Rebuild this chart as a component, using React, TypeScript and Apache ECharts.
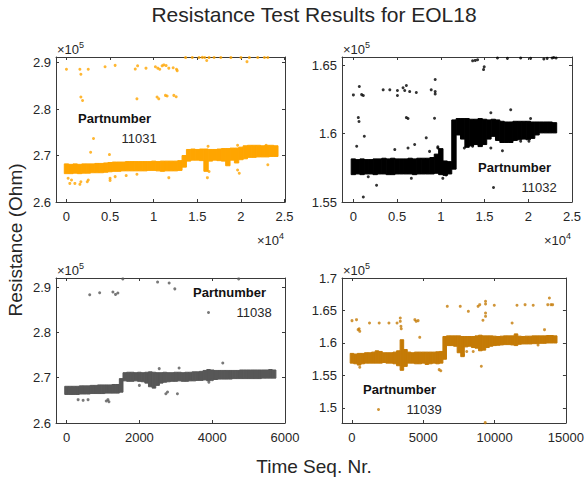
import React, { useEffect, useRef } from "react";
import * as echarts from "echarts";

// ---------- Data (x = sequence number, y = resistance in units of 1e5 Ohm) ----------
const partNumbers = ["11031", "11032", "11038", "11039"];

// Dense clouds: per x-bin [x, lowest value, highest value]
const band11031: number[][] = [
  [0, 2.661, 2.682], [500, 2.661, 2.681], [1000, 2.662, 2.682], [1500, 2.661, 2.681], [2000, 2.662, 2.682],
  [2500, 2.662, 2.682], [3000, 2.663, 2.682], [3500, 2.663, 2.683], [4000, 2.663, 2.683], [4500, 2.664, 2.684],
  [5000, 2.665, 2.685], [5500, 2.666, 2.686], [6000, 2.666, 2.686], [6500, 2.667, 2.686], [7000, 2.667, 2.687],
  [7500, 2.667, 2.687], [8000, 2.667, 2.687], [8500, 2.667, 2.687], [9000, 2.667, 2.687], [9500, 2.668, 2.687],
  [10000, 2.668, 2.688], [10500, 2.667, 2.687], [11000, 2.666, 2.688], [11500, 2.667, 2.688], [12000, 2.667, 2.688],
  [12500, 2.667, 2.688], [13000, 2.668, 2.689], [13500, 2.675, 2.700], [14000, 2.688, 2.713], [14500, 2.690, 2.714],
  [15000, 2.690, 2.713], [15500, 2.689, 2.714], [16000, 2.666, 2.714], [16500, 2.688, 2.713], [17000, 2.690, 2.713],
  [17500, 2.689, 2.714], [18000, 2.688, 2.715], [18500, 2.678, 2.715], [19000, 2.690, 2.716], [19500, 2.684, 2.716],
  [20000, 2.691, 2.718], [20500, 2.693, 2.721], [21000, 2.696, 2.722], [21500, 2.696, 2.722], [22000, 2.697, 2.722],
  [22500, 2.697, 2.721], [23000, 2.697, 2.722], [23500, 2.698, 2.722], [24000, 2.698, 2.721],
];
const band11032: number[][] = [
  [0, 1.5700, 1.5815], [500, 1.5705, 1.5810], [1000, 1.5700, 1.5815], [1500, 1.5705, 1.5810], [2000, 1.5705, 1.5810],
  [2500, 1.5700, 1.5815], [3000, 1.5705, 1.5815], [3500, 1.5705, 1.5820], [4000, 1.5700, 1.5815], [4500, 1.5700, 1.5820],
  [5000, 1.5705, 1.5815], [5500, 1.5705, 1.5815], [6000, 1.5705, 1.5815], [6500, 1.5705, 1.5820], [7000, 1.5700, 1.5815],
  [7500, 1.5705, 1.5820], [8000, 1.5705, 1.5820], [8500, 1.5705, 1.5820], [9000, 1.5705, 1.5825], [9500, 1.5710, 1.5850],
  [10000, 1.5700, 1.5890], [10500, 1.5695, 1.5800], [11000, 1.5705, 1.5795], [11500, 1.5740, 1.6100], [12000, 1.5990, 1.6110],
  [12500, 1.5960, 1.6110], [13000, 1.5900, 1.6110], [13500, 1.5910, 1.6105], [14000, 1.5920, 1.6105], [14500, 1.5905, 1.6110],
  [15000, 1.5920, 1.6105], [15500, 1.5960, 1.6100], [16000, 1.5980, 1.6105], [16500, 1.5950, 1.6100], [17000, 1.5935, 1.6090],
  [17500, 1.5935, 1.6085], [18000, 1.5935, 1.6085], [18500, 1.5950, 1.6090], [19000, 1.5955, 1.6090], [19500, 1.5960, 1.6090],
  [20000, 1.5955, 1.6090], [20500, 1.5965, 1.6085], [21000, 1.5990, 1.6085], [21500, 1.6005, 1.6085], [22000, 1.6005, 1.6085],
  [22500, 1.6005, 1.6085], [23000, 1.6005, 1.6080],
];
const band11038: number[][] = [
  [0, 2.663, 2.681], [100, 2.663, 2.681], [200, 2.663, 2.681], [300, 2.663, 2.681], [400, 2.664, 2.682],
  [500, 2.664, 2.682], [600, 2.664, 2.682], [700, 2.665, 2.683], [800, 2.665, 2.683], [900, 2.665, 2.684],
  [1000, 2.665, 2.684], [1100, 2.666, 2.684], [1200, 2.666, 2.684], [1300, 2.666, 2.685], [1400, 2.666, 2.685],
  [1500, 2.668, 2.698], [1600, 2.693, 2.711], [1700, 2.692, 2.712], [1800, 2.692, 2.712], [1900, 2.693, 2.711],
  [2000, 2.692, 2.712], [2100, 2.691, 2.711], [2200, 2.688, 2.712], [2300, 2.680, 2.713], [2400, 2.677, 2.712],
  [2500, 2.683, 2.711], [2600, 2.688, 2.711], [2700, 2.690, 2.712], [2800, 2.691, 2.711], [2900, 2.692, 2.711],
  [3000, 2.692, 2.712], [3100, 2.693, 2.712], [3200, 2.692, 2.711], [3300, 2.692, 2.712], [3400, 2.693, 2.712],
  [3500, 2.693, 2.713], [3600, 2.694, 2.713], [3700, 2.694, 2.714], [3800, 2.695, 2.716], [3900, 2.693, 2.718],
  [4000, 2.695, 2.717], [4100, 2.696, 2.716], [4200, 2.697, 2.716], [4300, 2.697, 2.716], [4400, 2.697, 2.716],
  [4500, 2.697, 2.716], [4600, 2.698, 2.716], [4700, 2.698, 2.716], [4800, 2.698, 2.717], [4900, 2.698, 2.717],
  [5000, 2.698, 2.717], [5100, 2.698, 2.717], [5200, 2.698, 2.717], [5300, 2.698, 2.717], [5400, 2.699, 2.717],
  [5500, 2.699, 2.717], [5600, 2.699, 2.718], [5700, 2.699, 2.717],
];
const band11039: number[][] = [
  [0, 1.5690, 1.5840], [250, 1.5680, 1.5830], [500, 1.5660, 1.5840], [750, 1.5680, 1.5840], [1000, 1.5690, 1.5850],
  [1250, 1.5690, 1.5850], [1500, 1.5690, 1.5860], [1750, 1.5690, 1.5880], [2000, 1.5690, 1.5870], [2250, 1.5700, 1.5850],
  [2500, 1.5690, 1.5850], [2750, 1.5690, 1.5850], [3000, 1.5680, 1.5860], [3250, 1.5650, 1.5880], [3500, 1.5580, 1.6050],
  [3750, 1.5640, 1.5900], [4000, 1.5690, 1.5860], [4250, 1.5690, 1.5850], [4500, 1.5680, 1.5860], [4750, 1.5680, 1.5860],
  [5000, 1.5690, 1.5860], [5250, 1.5670, 1.5860], [5500, 1.5680, 1.5860], [5750, 1.5690, 1.5860], [6000, 1.5680, 1.5865],
  [6250, 1.5690, 1.5870], [6500, 1.5750, 1.6100], [6750, 1.5960, 1.6110], [7000, 1.5960, 1.6110], [7250, 1.5950, 1.6110],
  [7500, 1.5850, 1.6110], [7750, 1.5790, 1.6100], [8000, 1.5940, 1.6100], [8250, 1.5950, 1.6100], [8500, 1.5930, 1.6100],
  [8750, 1.5920, 1.6110], [9000, 1.5880, 1.6120], [9250, 1.5890, 1.6110], [9500, 1.5930, 1.6110], [9750, 1.5950, 1.6110],
  [10000, 1.5960, 1.6105], [10250, 1.5965, 1.6100], [10500, 1.5970, 1.6105], [10750, 1.5975, 1.6110], [11000, 1.5975, 1.6110],
  [11250, 1.5970, 1.6110], [11500, 1.5960, 1.6140], [11750, 1.5980, 1.6105], [12000, 1.5985, 1.6100], [12250, 1.5985, 1.6105],
  [12500, 1.5985, 1.6105], [12750, 1.5990, 1.6110], [13000, 1.5990, 1.6110], [13250, 1.5995, 1.6110], [13500, 1.5995, 1.6110],
  [13750, 1.6000, 1.6115], [14000, 1.6000, 1.6115], [14250, 1.6000, 1.6110],
];
const bandSteps = [500, 500, 100, 250];

// Isolated points
const pts11031: number[][] = [
  [0, 2.8855], [1538, 2.8855], [1654, 2.875], [2500, 2.8855], [4423, 2.891], [5577, 2.894], [7885, 2.886], [8154, 2.893],
  [9115, 2.888], [10192, 2.891], [10462, 2.888], [10692, 2.8855], [10962, 2.893], [11154, 2.895], [11423, 2.8935],
  [11731, 2.888], [12231, 2.889], [12615, 2.8855], [12692, 2.8826],
  [13654, 2.9107], [14423, 2.911], [15192, 2.911], [15577, 2.9112], [15846, 2.911], [16077, 2.9044], [16346, 2.9107],
  [16923, 2.911], [17692, 2.911], [18846, 2.9107], [20000, 2.911], [20692, 2.902], [20962, 2.9107], [21923, 2.911],
  [22692, 2.911], [23077, 2.911],
  [1654, 2.8258], [1846, 2.8185], [8077, 2.822], [10385, 2.8258], [10577, 2.822], [11346, 2.8294], [11538, 2.828],
  [12308, 2.8294], [12577, 2.8265],
  [2769, 2.707], [4923, 2.702], [16231, 2.72], [19615, 2.722], [22885, 2.722],
  [192, 2.651], [577, 2.6473], [385, 2.64], [962, 2.64], [1538, 2.638], [1654, 2.6437], [2385, 2.6437], [2500, 2.6473],
  [5000, 2.651], [5000, 2.6465], [5577, 2.6546], [6846, 2.6568], [8077, 2.6597], [11731, 2.6524], [16154, 2.6524],
  [16346, 2.6655], [19615, 2.669], [19808, 2.662], [23077, 2.68],
];
const pts11032: number[][] = [
  [13636, 1.6532], [13939, 1.6535], [14205, 1.654], [14962, 1.6488], [14886, 1.6468], [16477, 1.6553], [17614, 1.655],
  [19129, 1.6553], [20265, 1.655], [21780, 1.6545], [22159, 1.655], [22727, 1.6553], [22917, 1.6556], [23182, 1.6553],
  [0, 1.6283], [682, 1.6344], [947, 1.6285], [1136, 1.6278], [3409, 1.632], [4167, 1.632], [5038, 1.6315], [5038, 1.6278],
  [5682, 1.6335], [5871, 1.6315], [6061, 1.6352], [6439, 1.6307], [7197, 1.63], [8902, 1.632], [9356, 1.6307],
  [9356, 1.629], [9356, 1.6396],
  [568, 1.6117], [644, 1.6088], [6061, 1.6117], [6250, 1.611], [9280, 1.6112], [15720, 1.6152], [17992, 1.6174],
  [20265, 1.611],
  [1250, 1.5981], [379, 1.5907], [8333, 1.5969], [7008, 1.592], [4735, 1.5883], [6250, 1.5895], [8712, 1.587],
  [9659, 1.5895], [9659, 1.5903],
  [1136, 1.5537], [2652, 1.5623], [1705, 1.5685], [6629, 1.5673], [10606, 1.5698], [10227, 1.5673],
  [12689, 1.5895], [13636, 1.5907], [15720, 1.5895], [17045, 1.5875], [19129, 1.5944], [20076, 1.5944],
];
const pts11038: number[][] = [
  [636, 2.883], [909, 2.8875], [1273, 2.889], [1345, 2.8838], [1409, 2.8868], [2500, 2.911], [2818, 2.909], [2973, 2.896],
  [1545, 2.918], [4727, 2.918],
  [318, 2.6515], [455, 2.65], [591, 2.6515], [1091, 2.6485], [1136, 2.6515], [1164, 2.647],
  [2773, 2.6684], [2727, 2.6647], [3045, 2.6647], [2000, 2.683],
  [2545, 2.72], [3091, 2.7213], [4291, 2.7324], [4000, 2.6956], [3909, 2.69],
];
const pts11039: number[][] = [
  [0, 1.6344], [318, 1.6359], [432, 1.6205], [545, 1.6179], [500, 1.622], [1227, 1.6308], [1909, 1.6308], [2591, 1.6308],
  [3159, 1.6308], [3386, 1.6333], [3386, 1.6385], [3432, 1.6256], [3455, 1.622], [4409, 1.6359], [4636, 1.6344],
  [4750, 1.6087], [4500, 1.6333],
  [6682, 1.6564], [7591, 1.6564], [8159, 1.6487], [8841, 1.6564], [8955, 1.659], [9364, 1.6641], [9364, 1.66],
  [9364, 1.646], [9364, 1.641], [9977, 1.658], [11568, 1.658], [12136, 1.659], [12705, 1.658], [13841, 1.6692],
  [13727, 1.659], [13955, 1.659], [14068, 1.659],
  [9182, 1.635], [11227, 1.6308], [13500, 1.6205],
  [9068, 1.5641], [6114, 1.559], [6227, 1.5574], [545, 1.5626], [9341, 1.4775],
  [7818, 1.582], [8045, 1.587], [8500, 1.587], [13045, 1.597],
];

// Axis ticks
const xTicksTop = [0, 5000, 10000, 15000, 20000, 25000];
const xTicks11038 = [0, 2000, 4000, 6000];
const xTicks11039 = [0, 5000, 10000, 15000];
const yTicks11031 = [2.6, 2.7, 2.8, 2.9];
const yTicks11032 = [1.55, 1.6, 1.65];
const yTicks11038 = [2.6, 2.7, 2.8, 2.9];
const yTicks11039 = [1.5, 1.55, 1.6, 1.65, 1.7];

const bands = [band11031, band11032, band11038, band11039];
const points = [pts11031, pts11032, pts11038, pts11039];
const colors = ["#FFA500", "#000000", "#575757", "#C47A06"];

// ---------- Layout ----------
const FONT = "'Liberation Sans', Arial, Helvetica, sans-serif";
const TXT = "#262626";
const AX = "#3a3a3a";
const grids = [
  { left: 56, top: 57, width: 229, height: 145 },
  { left: 342, top: 57, width: 230, height: 145 },
  { left: 56, top: 278, width: 229, height: 145 },
  { left: 342, top: 278, width: 230, height: 145 },
];
const ranges = [
  { xMin: -1200, xMax: 25050, yMin: 2.6, yMax: 2.912, xTicks: xTicksTop, yTicks: yTicks11031, xDiv: 1e4 },
  { xMin: -1300, xMax: 25000, yMin: 1.55, yMax: 1.656, xTicks: xTicksTop, yTicks: yTicks11032, xDiv: 1e4 },
  { xMin: -290, xMax: 6000, yMin: 2.6, yMax: 2.92, xTicks: xTicks11038, yTicks: yTicks11038, xDiv: 1 },
  { xMin: -700, xMax: 15000, yMin: 1.4769, yMax: 1.7, xTicks: xTicks11039, yTicks: yTicks11039, xDiv: 1 },
];
const legendPos = [
  { left: 78, cy: 118 },
  { left: 478, cy: 167 },
  { left: 193, cy: 292 },
  { left: 363, cy: 389 },
];

const fmt = (v: number) => String(+v.toFixed(3));

function buildOption() {
  const xAxis: any[] = [];
  const yAxis: any[] = [];
  const series: any[] = [];
  const legend: any[] = [];
  const graphic: any[] = [];

  grids.forEach((g, i) => {
    const r = ranges[i];
    const baseTick = { show: true, inside: true, length: 3, lineStyle: { color: AX, width: 1 } };
    const line = { show: true, onZero: false, lineStyle: { color: AX, width: 1 } };
    xAxis.push({
      type: "value", gridIndex: i, position: "bottom", min: r.xMin, max: r.xMax,
      axisLine: line, splitLine: { show: false },
      axisTick: { ...baseTick, customValues: r.xTicks },
      axisLabel: {
        customValues: r.xTicks, color: TXT, fontSize: 13, fontFamily: FONT, margin: 8,
        formatter: (v: number) => fmt(v / r.xDiv),
      },
    });
    xAxis.push({
      type: "value", gridIndex: i, position: "top", min: r.xMin, max: r.xMax,
      axisLine: line, splitLine: { show: false },
      axisTick: { ...baseTick, customValues: r.xTicks },
      axisLabel: { show: false },
    });
    yAxis.push({
      type: "value", gridIndex: i, position: "left", min: r.yMin, max: r.yMax,
      axisLine: line, splitLine: { show: false },
      axisTick: { ...baseTick, customValues: r.yTicks },
      axisLabel: {
        customValues: r.yTicks, color: TXT, fontSize: 13, fontFamily: FONT, margin: 5,
        formatter: (v: number) => fmt(v),
      },
    });
    yAxis.push({
      type: "value", gridIndex: i, position: "right", min: r.yMin, max: r.yMax,
      axisLine: line, splitLine: { show: false },
      axisTick: { ...baseTick, customValues: r.yTicks },
      axisLabel: { show: false },
    });

    const step = bandSteps[i];
    const color = colors[i];
    series.push({
      type: "custom",
      name: partNumbers[i] + " cloud",
      xAxisIndex: i * 2,
      yAxisIndex: i * 2,
      silent: true,
      clip: true,
      encode: { x: 0, y: [1, 2] },
      data: bands[i],
      renderItem: (params: any, api: any) => {
        const x = api.value(0);
        const lo = api.value(1);
        const hi = api.value(2);
        const p0 = api.coord([x - step / 2, hi]);
        const p1 = api.coord([x + step / 2, lo]);
        return {
          type: "rect",
          shape: { x: p0[0], y: p0[1], width: p1[0] - p0[0], height: Math.max(1, p1[1] - p0[1]) },
          style: { fill: color, stroke: color, lineWidth: 1 },
        };
      },
    });
    series.push({
      type: "scatter",
      name: partNumbers[i],
      xAxisIndex: i * 2,
      yAxisIndex: i * 2,
      symbol: "circle",
      symbolSize: 3,
      silent: true,
      itemStyle: { color },
      data: points[i],
    });

    const lp = legendPos[i];
    legend.push({
      data: [partNumbers[i]],
      left: lp.left + 14,
      top: lp.cy + 20.5 - 6.5,
      padding: 0,
      itemWidth: 46,
      itemHeight: 3,
      icon: "circle",
      selectedMode: false,
      textStyle: { fontSize: 13, color: TXT, fontFamily: FONT, lineHeight: 13 },
    });
    graphic.push({
      type: "text", x: lp.left, y: lp.cy,
      style: { text: "Partnumber", fontSize: 13, fontWeight: "bold", fill: "#111", fontFamily: FONT, align: "left", verticalAlign: "middle" },
    });

    // exponent labels
    graphic.push({
      type: "text", x: g.left + 1, y: g.top - 9,
      style: {
        text: "{a|×10}{b|5}", fontFamily: FONT, fill: TXT, align: "left", verticalAlign: "middle",
        rich: {
          a: { fontSize: 13, lineHeight: 16, fontFamily: FONT, fill: TXT, verticalAlign: "bottom" },
          b: { fontSize: 9, lineHeight: 9, fontFamily: FONT, fill: TXT, verticalAlign: "top" },
        },
      },
    });
    if (i < 2) {
      graphic.push({
        type: "text", x: g.left + g.width - 1, y: g.top + g.height + 37,
        style: {
          text: "{a|×10}{b|4}", fontFamily: FONT, fill: TXT, align: "right", verticalAlign: "middle",
          rich: {
            a: { fontSize: 13, lineHeight: 16, fontFamily: FONT, fill: TXT, verticalAlign: "bottom" },
            b: { fontSize: 9, lineHeight: 9, fontFamily: FONT, fill: TXT, verticalAlign: "top" },
          },
        },
      });
    }
  });

  graphic.push({
    type: "text", x: 314, y: 14,
    style: { text: "Resistance Test Results for EOL18", fontSize: 21, fill: TXT, fontFamily: FONT, align: "center", verticalAlign: "middle" },
  });
  graphic.push({
    type: "text", x: 15, y: 240, rotation: Math.PI / 2,
    style: { text: "Resistance (Ohm)", fontSize: 19, fill: TXT, fontFamily: FONT, align: "center", verticalAlign: "middle" },
  });
  graphic.push({
    type: "text", x: 314, y: 466,
    style: { text: "Time Seq. Nr.", fontSize: 19, fill: TXT, fontFamily: FONT, align: "center", verticalAlign: "middle" },
  });

  return {
    animation: false,
    backgroundColor: "#ffffff",
    textStyle: { fontFamily: FONT },
    grid: grids.map((g) => ({ ...g, containLabel: false })),
    xAxis,
    yAxis,
    legend,
    series,
    graphic,
  };
}

export default function App() {
  const ref = useRef<HTMLDivElement>(null);
  useEffect(() => {
    if (!ref.current) return;
    const chart = echarts.init(ref.current, undefined, { renderer: "svg" });
    chart.setOption(buildOption() as any);
    return () => chart.dispose();
  }, []);
  return (
    <div
      ref={ref}
      style={{ position: "fixed", left: 0, top: 0, width: 587, height: 480, background: "#fff" }}
    />
  );
}
